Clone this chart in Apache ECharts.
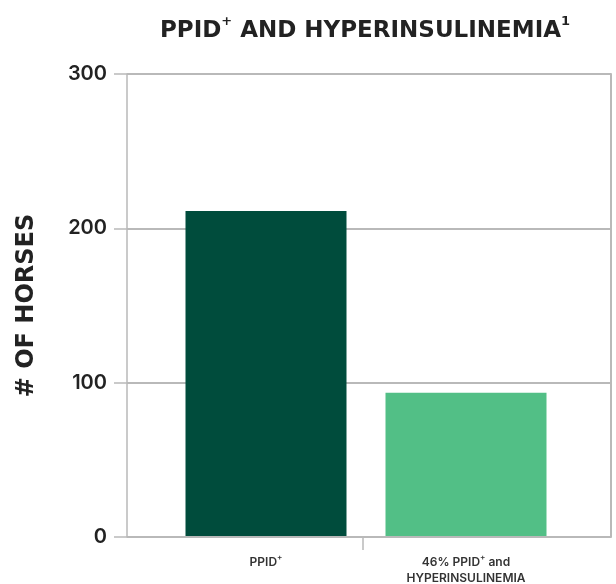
<!DOCTYPE html>
<html>
<head>
<meta charset="utf-8">
<style>html,body{margin:0;padding:0;background:#fff;}#chart{width:616px;height:584px;}</style>
<script src="https://cdn.jsdelivr.net/npm/echarts@6/dist/echarts.min.js"></script>
</head>
<body>
<div id="chart"></div>
<script>
const categories = ['PPID+', '46% PPID+ and\nHYPERINSULINEMIA'];
const values = [211, 93];
const barColors = ['#004c3c', '#52bf86'];
const yTicks = { min: 0, max: 300, interval: 100 };
const yName = '# OF HORSES';

const FONT = 'Inter';
const HEAD = 'DejaVu Sans';
const gridLine = '#b9b9b9';

const chart = echarts.init(document.getElementById('chart'));

function supLabel(s, main, sup) {
  return s.split('\n').map(line =>
    line.split('+').map((p, i, arr) =>
      (p ? '{' + main + '|' + p + '}' : '') + (i < arr.length - 1 ? '{' + sup + '|+}' : '')
    ).join('')
  ).join('\n');
}

chart.setOption({
  animation: false,
  title: {
    text: '{a|PPID}{s|+}{a| AND HYPERINSULINEMIA}{s|1}',
    left: 360,
    textAlign: 'center',
    top: 10,
    textStyle: {
      rich: {
        a: { fontFamily: HEAD, fontSize: 23, fontWeight: 'bold', color: '#222', lineHeight: 32 },
        s: { fontFamily: HEAD, fontSize: 13, fontWeight: 'bold', color: '#222', verticalAlign: 'top', lineHeight: 30 }
      }
    }
  },
  grid: [
    { left: 127, top: 74, right: 5, bottom: 47 },
    { left: 166, top: 74, width: 400, bottom: 47 },
    { left: 127, top: 74, width: 472, bottom: 47 }
  ],
  xAxis: [
    { gridIndex: 0, type: 'category', data: ['', ''], axisLine: { show: false }, axisTick: { show: false }, axisLabel: { show: false } },
    {
      gridIndex: 1, type: 'category', data: categories,
      axisLine: { show: false }, axisTick: { show: false },
      axisLabel: {
        margin: 18,
        formatter: v => supLabel(v, 'm', 's'),
        rich: {
          m: { fontFamily: FONT, fontSize: 12, fontWeight: 600, color: '#333', lineHeight: 16 },
          s: { fontFamily: FONT, fontSize: 8, fontWeight: 600, color: '#333', verticalAlign: 'top', lineHeight: 14 }
        }
      }
    },
    {
      gridIndex: 2, type: 'category', data: ['a', 'b', 'c'],
      axisLine: { show: false }, axisLabel: { show: false },
      axisTick: { show: true, alignWithLabel: true, length: 13, interval: (i) => i === 1, lineStyle: { color: gridLine, width: 1.5 } }
    }
  ],
  yAxis: [
    {
      gridIndex: 0, type: 'value', min: yTicks.min, max: yTicks.max, interval: yTicks.interval,
      name: yName, nameLocation: 'middle', nameGap: 88, nameRotate: 90,
      nameTextStyle: { fontFamily: HEAD, fontSize: 24, fontWeight: 'bold', color: '#222' },
      axisLine: { show: true, lineStyle: { color: gridLine, width: 1.5 } },
      axisTick: { show: true, length: 13, lineStyle: { color: gridLine, width: 1.5 } },
      splitLine: { show: true, lineStyle: { color: gridLine, width: 2 } },
      axisLabel: { margin: 20, fontFamily: FONT, fontSize: 20, fontWeight: 600, color: '#222' }
    },
    {
      gridIndex: 0, type: 'value', position: 'right', min: yTicks.min, max: yTicks.max, interval: yTicks.interval,
      axisLine: { show: true, lineStyle: { color: gridLine, width: 2 } },
      axisTick: { show: false }, axisLabel: { show: false }, splitLine: { show: false }
    },
    { gridIndex: 1, type: 'value', min: yTicks.min, max: yTicks.max, interval: yTicks.interval, show: false },
    { gridIndex: 2, type: 'value', min: 0, max: 1, show: false }
  ],
  series: [{
    type: 'bar',
    xAxisIndex: 1,
    yAxisIndex: 2,
    barWidth: 161,
    data: values.map((v, i) => ({ value: v, itemStyle: { color: barColors[i] } }))
  }]
});
</script>
</body>
</html>
